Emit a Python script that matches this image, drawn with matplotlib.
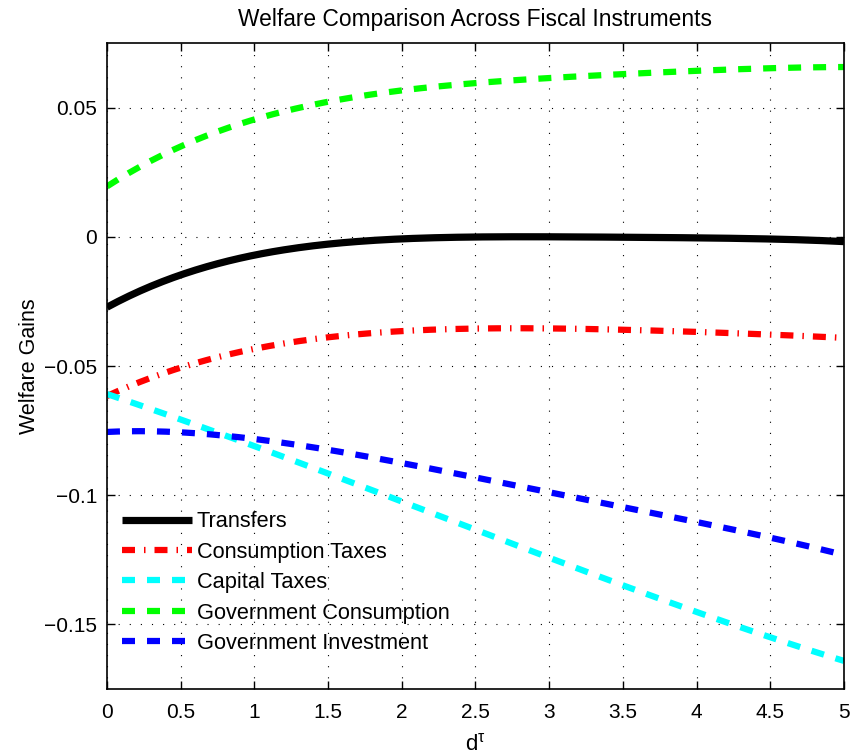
import matplotlib
matplotlib.use('Agg')
import matplotlib.pyplot as plt
import numpy as np

plt.rcParams['font.family'] = ['Liberation Sans', 'DejaVu Sans']
plt.rcParams['mathtext.fontset'] = 'custom'
plt.rcParams['mathtext.rm'] = 'Liberation Sans'
plt.rcParams['mathtext.it'] = 'Liberation Sans:italic'

# d^tau grid
d_tau = [0.0, 0.5, 1.0, 1.5, 2.0, 2.5, 3.0, 3.5, 4.0, 4.5, 5.0]

# Welfare gains per instrument
transfers = [-0.0275, -0.0142, -0.0071, -0.0033, -0.0009, 0.0001, 0.0002, 0.0000, -0.0005, -0.0011, -0.0017]
cons_taxes = [-0.0616, -0.0506, -0.0435, -0.0387, -0.0365, -0.0356, -0.0354, -0.0360, -0.0367, -0.0379, -0.0391]
cap_taxes = [-0.0607, -0.0711, -0.0804, -0.0925, -0.1016, -0.1132, -0.1245, -0.1352, -0.1451, -0.1546, -0.1643]
gov_cons = [0.0194, 0.0353, 0.0452, 0.0521, 0.0568, 0.0597, 0.0613, 0.0630, 0.0642, 0.0653, 0.0657]
gov_inv = [-0.0754, -0.0759, -0.0782, -0.0824, -0.0873, -0.0931, -0.0989, -0.1051, -0.1099, -0.1164, -0.1232]

labels = ['Transfers', 'Consumption Taxes', 'Capital Taxes',
          'Government Consumption', 'Government Investment']

fig = plt.figure(figsize=(8.53, 7.55), dpi=100)
ax = fig.add_axes([0.1254, 0.0874, 0.8640, 0.8556])

# smooth the read points a bit for drawing
xs = np.linspace(0, 5, 201)
def smooth(y):
    c = np.polyfit(d_tau, y, 4)
    return np.polyval(c, xs)

lw = 4.5
px = 72.0 / 100.0  # points per pixel

l1, = ax.plot(xs, smooth(transfers), color='k', lw=5.2, solid_capstyle='butt', label=labels[0])
l2, = ax.plot(xs, smooth(cons_taxes), color='r', lw=lw, label=labels[1])
l2.set_dashes([13 * px / lw, 9 * px / lw, 1.5 * px / lw, 9 * px / lw])
l3, = ax.plot(xs, smooth(cap_taxes), color=(0, 1, 1), lw=lw, label=labels[2])
l3.set_dashes([13 * px / lw, 12 * px / lw])
l4, = ax.plot(xs, smooth(gov_cons), color=(0, 1, 0), lw=lw, label=labels[3])
l4.set_dashes([13 * px / lw, 12 * px / lw])
l5, = ax.plot(xs, smooth(gov_inv), color=(0, 0, 1), lw=lw, label=labels[4])
l5.set_dashes([13 * px / lw, 12 * px / lw])
for l in (l2, l3, l4, l5):
    l.set_dash_capstyle('butt')

ax.set_xlim(0, 5)
ax.set_ylim(-0.175, 0.075)
ax.set_xticks(np.arange(0, 5.01, 0.5))
ax.set_xticklabels(['0', '0.5', '1', '1.5', '2', '2.5', '3', '3.5', '4', '4.5', '5'])
ax.set_yticks([-0.15, -0.1, -0.05, 0, 0.05])
ax.set_yticklabels(['\u22120.15', '\u22120.1', '\u22120.05', '0', '0.05'])
ax.tick_params(direction='in', length=6, width=1, top=True, right=True,
               labelsize=15, pad=7)
ax.tick_params(axis='x', pad=10)
ax.grid(True, color='k', linestyle=(0, (1, 9)), linewidth=0.8)
for s in ax.spines.values():
    s.set_linewidth(1.2)

ax.set_title('Welfare Comparison Across Fiscal Instruments', fontsize=16.4, pad=12)
ax.set_xlabel(r'd$^{\mathregular{\tau}}$', fontsize=16, labelpad=8)
ax.set_ylabel('Welfare Gains', fontsize=15.5, labelpad=3)

ax.legend(loc='lower left', bbox_to_anchor=(-0.006, 0.024), frameon=False,
          fontsize=15.7, handlelength=3.2, handletextpad=0.22, labelspacing=0.43,
          borderaxespad=0.5)

fig.savefig('out.png', dpi=100)
